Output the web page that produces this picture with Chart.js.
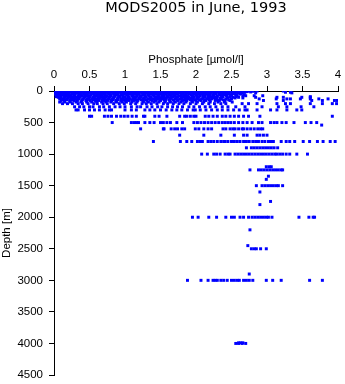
<!DOCTYPE html>
<html>
<head>
<meta charset="utf-8">
<script src="https://cdn.jsdelivr.net/npm/chart.js@4/dist/chart.umd.min.js"></script>
<style>
  html, body { margin: 0; padding: 0; background: #fff; }
  canvas { display: block; }
</style>
</head>
<body>
<canvas id="profile" width="345" height="384"></canvas>
<script>
// phosphate (umol/l) observed at each depth level (m)
const po4_0m = [0.01,0.05,0.09,0.14,0.17,0.22,0.28,0.31,0.37,0.42,0.46,0.53,0.57,0.62,0.68,0.71,0.77,0.82,0.88,0.91,0.97,1.03,1.06,1.12,1.18,1.21,1.27,1.33,1.38,1.42,1.49,1.53,1.58,1.64,1.69,1.73,1.79,1.84,1.9,1.96,2.01,2.07,2.12,2.19,2.24,2.31,2.38,2.44,2.52,2.58,2.66,2.74,2.86,3.23,3.33];
const po4_5m = [0.03,0.1,0.15,0.21,0.3,0.34,0.41,0.48,0.52,0.59,0.67,0.74,0.8,0.86,0.94,1.0,1.09,1.15,1.23,1.31,1.35,1.44,1.5,1.59,1.66,1.75,1.81,1.89,1.95,2.04,2.13,2.2,2.27,2.36,2.47,2.55,2.64,2.8];
const po4_10m = [0.03,0.07,0.11,0.16,0.2,0.25,0.33,0.39,0.44,0.49,0.55,0.6,0.66,0.73,0.79,0.85,0.9,0.95,1.0,1.08,1.14,1.2,1.25,1.3,1.36,1.41,1.47,1.55,1.61,1.67,1.72,1.77,1.83,1.88,1.93,1.99,2.04,2.1,2.16,2.22,2.29,2.35,2.42,2.49,2.57,2.63,2.72];
const po4_15m = [0.06,0.12,0.19,0.26,0.33,0.38,0.45,0.5,0.61,0.67,0.72,0.81,0.89,0.96,1.02,1.1,1.18,1.27,1.34,1.4,1.48,1.54,1.62,1.7,1.78,1.86,1.91,2.0,2.07,2.15,2.24,2.32,2.4,2.51,2.58,2.69,2.77];
const po4_20m = [0.02,0.06,0.1,0.13,0.18,0.24,0.29,0.35,0.4,0.47,0.51,0.58,0.64,0.69,0.75,0.81,0.86,0.93,0.99,1.05,1.1,1.16,1.23,1.29,1.35,1.4,1.45,1.51,1.57,1.63,1.7,1.75,1.81,1.87,1.92,1.98,2.03,2.09,2.15,2.21,2.27,2.34,2.4,2.46,2.53,2.6,2.68,3.26,3.33];
const po4_30m = [0.04,0.08,0.12,0.17,0.21,0.27,0.32,0.38,0.43,0.48,0.54,0.59,0.65,0.7,0.76,0.83,0.87,0.94,1.01,1.07,1.13,1.19,1.24,1.31,1.37,1.43,1.48,1.54,1.6,1.66,1.71,1.78,1.82,1.89,1.94,2.0,2.06,2.13,2.18,2.25,2.32,2.37,2.45,2.51,2.59,2.65,2.84,3.35];
const po4_40m = [0.01,0.09,0.14,0.2,0.27,0.35,0.42,0.47,0.56,0.62,0.7,0.77,0.85,0.9,0.99,1.05,1.12,1.2,1.28,1.36,1.43,1.52,1.58,1.65,1.74,1.82,1.9,1.96,2.05,2.11,2.2,2.28,2.36,2.43,2.52,2.63];
const po4_50m = [0.02,0.07,0.12,0.15,0.2,0.26,0.3,0.36,0.42,0.45,0.52,0.56,0.63,0.67,0.72,0.78,0.84,0.89,0.96,1.02,1.09,1.15,1.19,1.26,1.32,1.39,1.44,1.5,1.56,1.62,1.68,1.74,1.8,1.86,1.91,1.97,2.02,2.08,2.14,2.2,2.26,2.33,2.39,2.47,2.55,2.62];
const po4_60m = [0.04,0.11,0.17,0.24,0.29,0.38,0.44,0.52,0.6,0.65,0.72,0.8,0.88,0.95,1.03,1.11,1.17,1.25,1.33,1.4,1.47,1.55,1.63,1.7,1.79,1.85,1.93,2.0,2.1,2.17,2.24,2.34,2.41,2.49,2.57,2.68];
const po4_75m = [0.05,0.09,0.14,0.19,0.23,0.28,0.34,0.4,0.46,0.5,0.57,0.61,0.68,0.74,0.8,0.86,0.92,0.97,1.04,1.1,1.17,1.22,1.28,1.34,1.41,1.47,1.52,1.59,1.65,1.7,1.76,1.83,1.88,1.95,2.01,2.06,2.12,2.19,2.25,2.3,2.37,2.43,2.5,2.58,2.66,2.7,2.82,2.94];
const po4_90m = [0.03,0.08,0.15,0.22,0.29,0.36,0.44,0.51,0.57,0.64,0.71,0.78,0.85,0.93,1.0,1.06,1.13,1.21,1.29,1.37,1.45,1.52,1.6,1.68,1.74,1.81,1.88,1.96,2.03,2.13,2.21,2.3,2.38,2.48,2.56,3.61];
const po4_100m = [0.06,0.1,0.16,0.21,0.26,0.31,0.37,0.43,0.49,0.55,0.62,0.66,0.73,0.79,0.84,0.91,0.98,1.05,1.11,1.16,1.23,1.3,1.36,1.42,1.48,1.55,1.61,1.66,1.73,1.79,1.85,1.9,1.97,2.04,2.1,2.17,2.23,2.28,2.36,2.44,2.52,2.6,2.84,3.14,3.23,3.49,3.61];
const po4_110m = [0.09,0.14,0.2,0.27,0.34,0.42,0.49,0.56,0.62,0.69,0.77,0.84,0.9,0.97,1.04,1.12,1.2,1.27,1.35,1.43,1.5,1.57,1.64,1.72,1.8,1.86,1.93,2.01,2.1,2.18,2.26,2.34,2.45,2.55,2.66];
const po4_125m = [0.08,0.13,0.18,0.24,0.3,0.35,0.41,0.47,0.53,0.59,0.64,0.71,0.77,0.82,0.89,0.95,1.01,1.07,1.14,1.2,1.26,1.33,1.39,1.46,1.53,1.58,1.64,1.71,1.77,1.84,1.89,1.96,2.02,2.08,2.15,2.22,2.29,2.35,2.42,2.5,2.89,3.13,3.28,3.33,3.47,3.61,3.73,3.86];
const po4_140m = [0.12,0.18,0.26,0.32,0.4,0.47,0.55,0.6,0.68,0.74,0.83,0.9,0.97,1.03,1.1,1.16,1.23,1.29,1.36,1.42,1.49,1.55,1.62,1.68,1.74,1.8,1.85,1.92,1.98,2.05,2.12,2.19,2.3,2.38,2.46];
const po4_150m = [0.1,0.15,0.22,0.28,0.33,0.39,0.45,0.51,0.58,0.63,0.7,0.76,0.81,0.87,0.94,1.0,1.06,1.13,1.18,1.25,1.31,1.38,1.44,1.5,1.57,1.63,1.69,1.75,1.82,1.87,1.94,2.0,2.07,2.14,2.2,2.27,2.33,2.41,2.48,2.95,3.23,3.63,3.78,3.95,3.99];
const po4_175m = [0.08,0.15,0.23,0.31,0.38,0.46,0.53,0.6,0.67,0.73,0.8,0.88,0.96,1.02,1.1,1.17,1.26,1.33,1.41,1.48,1.56,1.64,1.71,1.79,1.86,1.95,2.02,2.11,2.2,2.31,2.4,2.51];
const po4_200m = [0.12,0.19,0.26,0.34,0.4,0.48,0.56,0.61,0.69,0.75,0.84,0.92,0.99,1.08,1.15,1.24,1.3,1.37,1.45,1.54,1.6,1.68,1.76,1.83,1.92,2.0,2.09,2.18,2.26,2.35,2.42,2.65,2.74,2.86,3.14,3.26,3.33,3.61,3.78,3.92,3.98];
const po4_250m = [0.29,0.36,0.42,0.5,0.55,0.64,0.7,0.78,0.86,0.93,1.0,1.09,1.17,1.22,1.31,1.38,1.46,1.52,1.6,1.67,1.74,1.81,1.9,1.97,2.05,2.13,2.2,2.28,2.37,2.45,2.56,2.69,2.93,3.16,3.28,3.48,3.66];
const po4_300m = [0.31,0.34,0.43,0.5,0.57,0.64,0.72,0.78,0.81,1.0,1.09,1.16,1.28,1.35,1.42,1.5,1.58,1.66,1.73,1.8,1.88,1.96,1.99,2.06,2.14,2.22,2.3,2.37,2.45,2.53,2.61,2.69,2.72,2.86,3.05,3.14,3.28,3.42,3.49];
const po4_400m = [0.5,0.53,0.71,0.76,0.81,0.88,0.94,0.99,1.04,1.1,1.16,1.26,1.28,1.42,1.48,1.59,1.77,1.84,1.87,1.92,1.97,2.0,2.13,2.18,2.24,2.3,2.37,2.42,2.48,2.54,2.6,2.67,2.74,2.9,3.92];
const po4_500m = [0.82,1.09,1.13,1.16,1.19,1.28,1.35,1.41,1.5,1.54,1.59,1.64,1.73,1.81,1.97,2.02,2.07,2.12,2.17,2.22,2.27,2.32,2.37,2.41,2.45,2.49,2.54,2.6,2.66,2.72,2.79,2.88,2.93,3.05,3.1,3.14,3.21,3.27,3.38,3.54,3.62,3.7];
const po4_540m = [3.77];
const po4_600m = [1.22,1.54,1.55,1.65,1.7,1.74,1.8,1.84,1.99,2.04,2.11,2.17,2.22,2.38,2.42,2.48,2.52,2.55,2.6,2.65,2.67,2.72,2.77,2.82,2.87,2.91,2.94];
const po4_700m = [1.77,2.11,2.35,2.54,2.67,2.72,2.86,2.9,2.95,3.0];
const po4_800m = [1.4,1.78,1.87,1.94,2.02,2.06,2.09,2.17,2.21,2.25,2.3,2.35,2.39,2.41,2.45,2.5,2.54,2.58,2.62,2.67,2.71,2.75,2.8,2.84,2.88,2.93,2.97,3.02,3.05,3.09,3.2,3.27,3.32,3.39,3.51,3.6,3.71,3.79,3.89,3.96];
const po4_900m = [2.71,2.78,2.82,2.86,2.9,2.94,2.98,3.02,3.06,3.1,3.15];
const po4_1000m = [2.08,2.16,2.25,2.29,2.34,2.41,2.45,2.48,2.55,2.59,2.63,2.67,2.71,2.75,2.79,2.83,2.87,2.91,2.95,2.99,3.03,3.07,3.11,3.14,3.18,3.22,3.27,3.32,3.42,3.57];
const po4_1200m = [2.99,3.03,3.06];
const po4_1250m = [2.76,2.88,2.92,2.96,3.0,3.04,3.08,3.12,3.16,3.2,3.22];
const po4_1350m = [3.02];
const po4_1400m = [2.99];
const po4_1500m = [2.85,2.93,2.97,3.01,3.05,3.09,3.13,3.16,3.22];
const po4_1600m = [2.9];
const po4_1750m = [3.05];
const po4_1800m = [2.9];
const po4_2000m = [1.95,2.03,2.18,2.29,2.42,2.5,2.54,2.62,2.67,2.74,2.79,2.83,2.87,2.91,2.95,2.99,3.02,3.07,3.45,3.59,3.65,3.67];
const po4_2200m = [2.76];
const po4_2450m = [2.73];
const po4_2500m = [2.78,2.82,2.85,2.91,2.99];
const po4_2900m = [2.75];
const po4_3000m = [1.88,2.07,2.17,2.24,2.27,2.3,2.35,2.39,2.44,2.5,2.54,2.58,2.61,2.67,2.71,2.75,2.8,2.99,3.08,3.2,3.6,3.78];
const po4_3990m = [2.6,2.63,2.66];
const po4_4000m = [2.56,2.6,2.65,2.7];

const casts = [
  [0, po4_0m], [5, po4_5m], [10, po4_10m], [15, po4_15m], [20, po4_20m],
  [30, po4_30m], [40, po4_40m], [50, po4_50m], [60, po4_60m], [75, po4_75m],
  [90, po4_90m], [100, po4_100m], [110, po4_110m], [125, po4_125m],
  [140, po4_140m], [150, po4_150m], [175, po4_175m],
  [200, po4_200m], [250, po4_250m], [300, po4_300m], [400, po4_400m],
  [500, po4_500m], [540, po4_540m], [600, po4_600m], [700, po4_700m],
  [800, po4_800m], [900, po4_900m], [1000, po4_1000m], [1200, po4_1200m],
  [1250, po4_1250m], [1350, po4_1350m], [1400, po4_1400m], [1500, po4_1500m],
  [1600, po4_1600m], [1750, po4_1750m], [1800, po4_1800m], [2000, po4_2000m],
  [2200, po4_2200m], [2450, po4_2450m], [2500, po4_2500m], [2900, po4_2900m],
  [3000, po4_3000m], [3990, po4_3990m], [4000, po4_4000m]
];

const points = [];
casts.forEach(([depth, values]) => {
  values.forEach(v => points.push({ x: v, y: depth }));
});

const axisFont = { family: "'Liberation Sans', Arial, sans-serif", size: 11.5 };
const titleSize = 14.5;

new Chart(document.getElementById('profile'), {
  type: 'scatter',
  data: {
    datasets: [{
      data: points,
      pointStyle: 'rect',
      pointRadius: 2.1,
      pointBorderWidth: 0,
      backgroundColor: '#0000ff',
      borderColor: '#0000ff'
    }]
  },
  options: {
    responsive: false,
    animation: false,
    layout: { padding: { left: 0, right: 7, top: 0, bottom: 9 } },
    plugins: {
      legend: { display: false },
      tooltip: { enabled: false },
      title: {
        display: true,
        fullSize: false,
        text: 'MODS2005 in June, 1993',
        color: '#000',
        font: { family: "'DejaVu Sans', sans-serif", size: titleSize, weight: 'normal', lineHeight: 1.2 },
        padding: 0
      }
    },
    scales: {
      x: {
        type: 'linear',
        position: 'top',
        min: 0,
        max: 4,
        ticks: { stepSize: 0.5, color: '#000', font: axisFont, padding: 4, maxRotation: 0, callback: v => String(v) },
        grid: { drawOnChartArea: false, tickLength: 5, color: '#000' },
        border: { color: '#000', width: 1 },
        // axis title centred around y = 60
        title: { display: true, text: 'Phosphate [µmol/l]', color: '#000', font: axisFont, padding: { top: 60 - titleSize * 1.2 - 6.9, bottom: 0 } },
        afterFit: s => {
          s.height = 91 - titleSize * 1.2;
          s.paddingLeft = 0;
          s.paddingRight = 0;
        }
      },
      y: {
        type: 'linear',
        reverse: true,
        min: 0,
        max: 4500,
        ticks: { stepSize: 500, color: '#000', font: axisFont, padding: 6, callback: v => String(v) },
        grid: { drawOnChartArea: false, tickLength: 5, color: '#000' },
        border: { color: '#000', width: 1 },
        title: { display: true, text: 'Depth [m]', color: '#000', font: axisFont, padding: { top: 0, bottom: 0 } },
        afterFit: s => {
          s.width = 54;
          s.paddingTop = 0;
          s.paddingBottom = 0;
        }
      }
    }
  }
});
</script>
</body>
</html>
